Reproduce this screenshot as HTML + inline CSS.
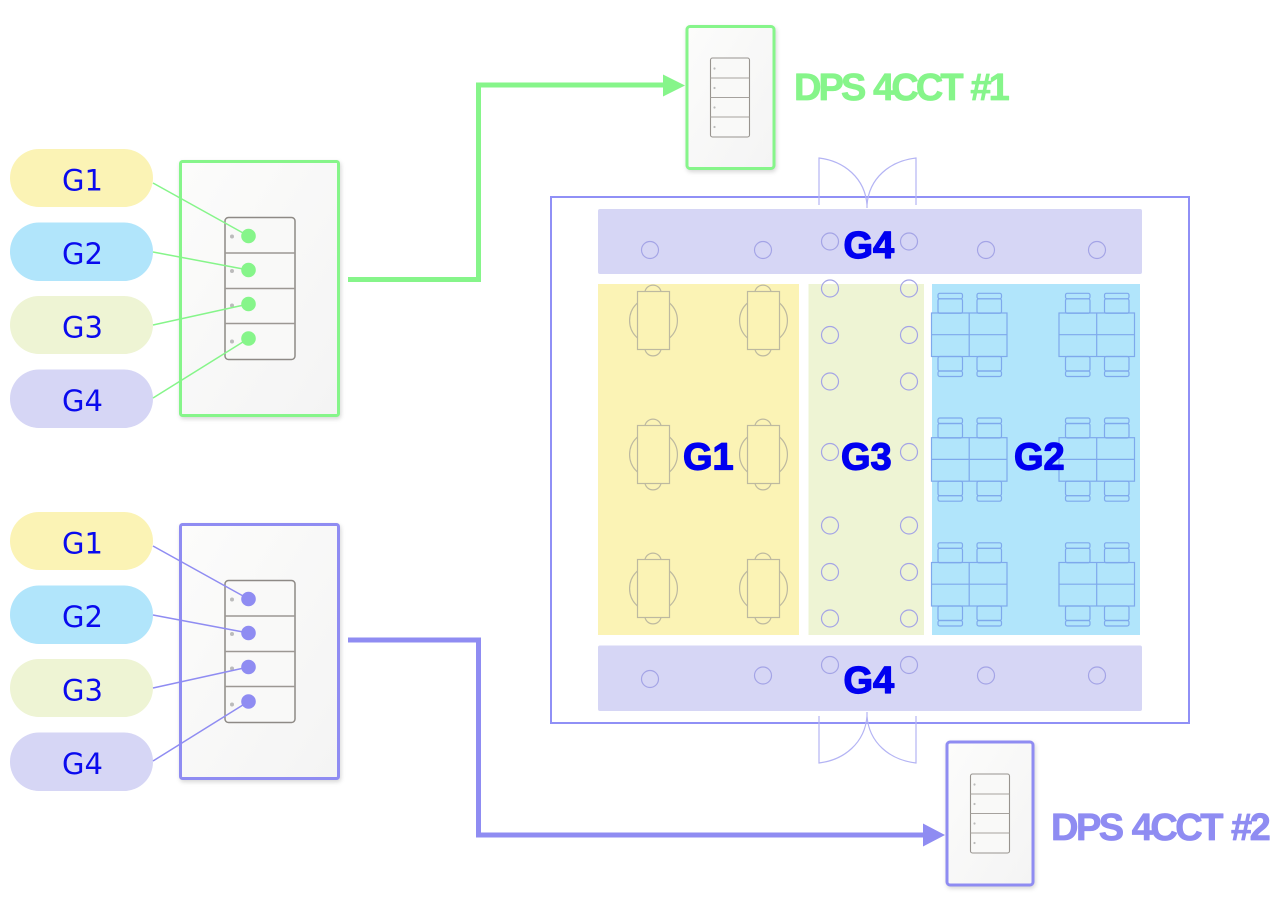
<!DOCTYPE html>
<html lang="en">
<head>
<meta charset="utf-8">
<title>DPS 4CCT</title>
<style>
html,body{margin:0;padding:0;background:#fff;width:1280px;height:915px;overflow:hidden}
svg{display:block}
text{font-family:"Liberation Sans",sans-serif}
.pt{font-family:"DejaVu Sans",sans-serif;font-size:29px;fill:#0a0aee}
.bt{font-size:38px;font-weight:bold;fill:#0000f0;stroke:#0000f0;stroke-width:1.300px;stroke-linejoin:round}
.dt{font-size:38px;font-weight:bold;letter-spacing:-2.900px;word-spacing:2px;stroke-width:.8px;stroke-linejoin:round}
.c{fill:none;stroke:#a4a4e6;stroke-width:1.200}
.d{fill:none;stroke:#b4b4f4;stroke-width:1.200}
.plate{filter:drop-shadow(1px 2px 2px rgba(0,0,0,.16))}
</style>
</head>
<body>
<svg width="1280" height="915" viewBox="0 0 1280 915" xmlns="http://www.w3.org/2000/svg">
<defs>
<linearGradient id="pg" x1="0" y1="0" x2="1" y2="1">
<stop offset="0" stop-color="#fcfcfb"/><stop offset="1" stop-color="#f4f4f4"/>
</linearGradient>
<g id="sw">
<rect x="225" y="217.500" width="70" height="142" rx="3.500" fill="#f9f9f8" stroke="#8e8a86" stroke-width="1.500"/>
<path d="M225 253H295M225 288.500H295M225 323.500H295" stroke="#9c9894" stroke-width="1.500" fill="none"/>
<circle cx="232" cy="236.500" r="2" fill="#bbb"/>
<circle cx="232" cy="271" r="2" fill="#bbb"/>
<circle cx="232" cy="305.500" r="2" fill="#bbb"/>
<circle cx="232" cy="341.500" r="2" fill="#bbb"/>
</g>
<g id="ssw">
<rect x="0" y="0" width="39" height="79" rx="2" fill="#f9f9f8" stroke="#98948f" stroke-width="1.100"/>
<path d="M0 20H39M0 39.500H39M0 59H39" stroke="#a6a29e" stroke-width="1.100" fill="none"/>
<circle cx="4" cy="10.500" r="1.100" fill="#bbb"/>
<circle cx="4" cy="30" r="1.100" fill="#bbb"/>
<circle cx="4" cy="49.500" r="1.100" fill="#bbb"/>
<circle cx="4" cy="69" r="1.100" fill="#bbb"/>
</g>
<g id="rt" fill="none" stroke="#bdb9a0" stroke-width="1.200">
<path d="M645 291.500A8.200 8.200 0 0 1 661 291.500"/>
<path d="M645 349.500A8.200 8.200 0 0 0 661 349.500"/>
<path d="M637.500 303A23.300 23.300 0 0 0 637.500 338"/>
<path d="M669.500 303A23.300 23.300 0 0 1 669.500 338"/>
<rect x="637.500" y="291.500" width="32" height="58"/>
</g>
<g id="chair" fill="none" stroke="#7ea9ec" stroke-width="1.200">
<rect x="0" y="0" width="24.500" height="5.500" rx="1.800"/>
<rect x="0" y="5.500" width="24.500" height="14.500" rx="1.800"/>
</g>
<g id="tb">
<use href="#chair" transform="translate(6.500,-19.700)"/>
<use href="#chair" transform="translate(45.500,-19.700)"/>
<use href="#chair" transform="translate(6.500,63.500) scale(1,-1)"/>
<use href="#chair" transform="translate(45.500,63.500) scale(1,-1)"/>
<rect x="0" y="0" width="75.500" height="43.500" fill="none" stroke="#7ea9ec" stroke-width="1.200"/>
<path d="M37.700 0V43.500M0 21.700H75.500" fill="none" stroke="#7ea9ec" stroke-width="1.200"/>
</g>
</defs>

<!-- Floor plan -->
<rect x="551" y="197" width="638" height="526" fill="#fff" stroke="#9090f6" stroke-width="2"/>
<rect x="598" y="209" width="544" height="65" rx="2" fill="#d6d6f5"/>
<rect x="598" y="645.500" width="544" height="65.500" rx="2" fill="#d6d6f5"/>
<rect x="598" y="284" width="201" height="351" fill="#fbf3b5"/>
<rect x="808.500" y="284" width="115.500" height="351" fill="#eef4d4"/>
<rect x="932" y="284" width="208" height="351" fill="#b1e5fb"/>

<!-- Doors -->
<path class="d" d="M819 205V158C844 161 865 178 867 205C869 178 890 161 916 158V205"/>
<path class="d" d="M867 205V208"/>
<path class="d" d="M819 716V763C844 760 865 743 867 716C869 743 890 760 916 763V716"/>
<path class="d" d="M867 716V712"/>

<!-- Circles -->
<g class="c">
<circle cx="650" cy="250" r="8.500"/><circle cx="763" cy="250" r="8.500"/>
<circle cx="830" cy="241.500" r="8.500"/><circle cx="909" cy="241.500" r="8.500"/>
<circle cx="986" cy="250" r="8.500"/><circle cx="1097" cy="250" r="8.500"/>
<circle cx="830" cy="288.500" r="8.500"/><circle cx="909" cy="288.500" r="8.500"/>
<circle cx="830" cy="335" r="8.500"/><circle cx="909" cy="335" r="8.500"/>
<circle cx="830" cy="381.500" r="8.500"/><circle cx="909" cy="381.500" r="8.500"/>
<circle cx="830" cy="452" r="8.500"/><circle cx="909" cy="452" r="8.500"/>
<circle cx="830" cy="525.500" r="8.500"/><circle cx="909" cy="525.500" r="8.500"/>
<circle cx="830" cy="572" r="8.500"/><circle cx="909" cy="572" r="8.500"/>
<circle cx="830" cy="618.500" r="8.500"/><circle cx="909" cy="618.500" r="8.500"/>
<circle cx="830" cy="665" r="8.500"/><circle cx="909" cy="665" r="8.500"/>
<circle cx="650" cy="679" r="8.500"/><circle cx="763" cy="675.500" r="8.500"/>
<circle cx="986" cy="675.500" r="8.500"/><circle cx="1097" cy="675.500" r="8.500"/>
</g>

<!-- G1 tables -->
<use href="#rt"/>
<use href="#rt" transform="translate(110,0)"/>
<use href="#rt" transform="translate(0,134)"/>
<use href="#rt" transform="translate(110,134)"/>
<use href="#rt" transform="translate(0,268)"/>
<use href="#rt" transform="translate(110,268)"/>

<!-- G2 tables -->
<use href="#tb" transform="translate(931.500,313)"/>
<use href="#tb" transform="translate(1059,313)"/>
<use href="#tb" transform="translate(931.500,437.700)"/>
<use href="#tb" transform="translate(1059,437.700)"/>
<use href="#tb" transform="translate(931.500,562.500)"/>
<use href="#tb" transform="translate(1059,562.500)"/>

<!-- Zone labels -->
<text class="bt" x="843.500" y="258">G4</text>
<text class="bt" x="843.500" y="693">G4</text>
<text class="bt" x="683" y="469.500">G1</text>
<text class="bt" x="841" y="469.500">G3</text>
<text class="bt" x="1014" y="469.500">G2</text>

<!-- Thick connectors -->
<path d="M348 279.500H478.500V85H665" fill="none" stroke="#86f58a" stroke-width="5"/>
<path d="M663 74.500L685 85.500L663 96.500Z" fill="#86f58a"/>
<path d="M348 640H478.500V835H925" fill="none" stroke="#8f8cf2" stroke-width="5"/>
<path d="M923 823.500L945 835L923 846.500Z" fill="#8f8cf2"/>

<!-- Small plates -->
<rect class="plate" x="687" y="26.500" width="87" height="142" rx="3" fill="url(#pg)" stroke="#86f58a" stroke-width="3"/>
<use href="#ssw" transform="translate(710.500,58)"/>
<rect class="plate" x="947" y="742" width="86" height="143" rx="3" fill="url(#pg)" stroke="#8f8cf2" stroke-width="3"/>
<use href="#ssw" transform="translate(970.500,774)"/>

<text class="dt" x="794" y="100" fill="#86f58a" stroke="#86f58a">DPS 4CCT #1</text>
<text class="dt" x="1051" y="840" fill="#8f8cf2" stroke="#8f8cf2" style="letter-spacing:-2.500px">DPS 4CCT #2</text>

<!-- Left panel 1 -->
<rect class="plate" x="180.500" y="161.500" width="158" height="254" rx="2" fill="url(#pg)" stroke="#86f58a" stroke-width="3"/>
<use href="#sw"/>
<rect x="10" y="149" width="143" height="58" rx="29" fill="#fbf3b5"/>
<rect x="10" y="222.500" width="143" height="58.500" rx="29" fill="#b1e5fb"/>
<rect x="10" y="296" width="143" height="58" rx="29" fill="#eef4d4"/>
<rect x="10" y="369.500" width="143" height="58.500" rx="29" fill="#d6d6f5"/>
<text class="pt" x="62" y="190.500">G1</text>
<text class="pt" x="62" y="264">G2</text>
<text class="pt" x="62" y="337.500">G3</text>
<text class="pt" x="62" y="411">G4</text>
<g stroke="#86f58a" stroke-width="1.500" fill="none">
<path d="M153 183L248.500 236M153 252L248.500 270M153 325L248.500 304M153 398L248.500 338.500"/>
</g>
<g fill="#86f58a">
<circle cx="248.500" cy="236" r="7.300"/><circle cx="248.500" cy="270" r="7.300"/>
<circle cx="248.500" cy="304" r="7.300"/><circle cx="248.500" cy="338.500" r="7.300"/>
</g>

<!-- Left panel 2 -->
<rect class="plate" x="180.500" y="524.500" width="158" height="254" rx="2" fill="url(#pg)" stroke="#8f8cf2" stroke-width="3"/>
<use href="#sw" transform="translate(0,363)"/>
<rect x="10" y="512" width="143" height="58" rx="29" fill="#fbf3b5"/>
<rect x="10" y="585.500" width="143" height="58.500" rx="29" fill="#b1e5fb"/>
<rect x="10" y="659" width="143" height="58" rx="29" fill="#eef4d4"/>
<rect x="10" y="732.500" width="143" height="58.500" rx="29" fill="#d6d6f5"/>
<text class="pt" x="62" y="553.500">G1</text>
<text class="pt" x="62" y="627">G2</text>
<text class="pt" x="62" y="700.500">G3</text>
<text class="pt" x="62" y="774">G4</text>
<g stroke="#8f8cf2" stroke-width="1.500" fill="none">
<path d="M153 546L248.500 599M153 615L248.500 633M153 688L248.500 667M153 761L248.500 701.500"/>
</g>
<g fill="#8f8cf2">
<circle cx="248.500" cy="599" r="7.300"/><circle cx="248.500" cy="633" r="7.300"/>
<circle cx="248.500" cy="667" r="7.300"/><circle cx="248.500" cy="701.500" r="7.300"/>
</g>
</svg>
</body>
</html>
